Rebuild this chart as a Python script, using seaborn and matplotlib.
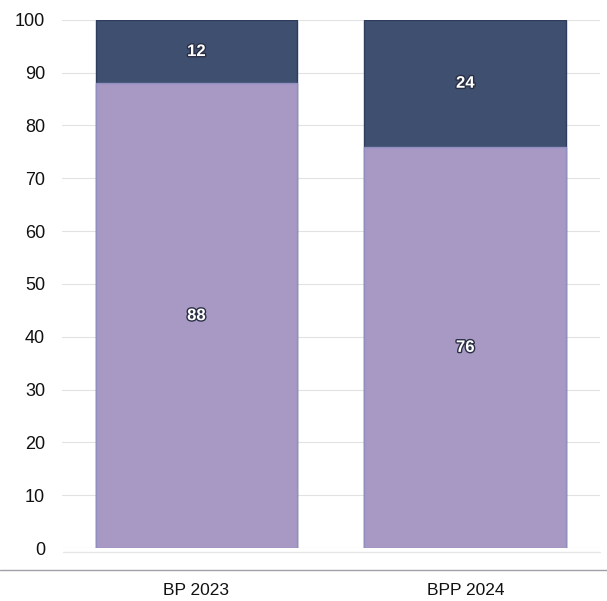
import pandas as pd
import seaborn as sns
import matplotlib.pyplot as plt
import matplotlib.patheffects as pe

categories = ['BP 2023', 'BPP 2024']
lower_values = [88, 76]
upper_values = [12, 24]

df = pd.DataFrame({'cat': categories, 'lower': lower_values, 'upper': upper_values})
df['total'] = df['lower'] + df['upper']

sns.set_style('white')
plt.rcParams['font.family'] = ['Liberation Sans', 'DejaVu Sans']

fig = plt.figure(figsize=(6.07, 6.01), dpi=100)
ax = fig.add_axes([0.102, 0.088, 0.886, 0.879])

# stacked: draw totals first (dark), then the lower part on top
sns.barplot(data=df, x='cat', y='total', color='#3e4f70', width=0.75,
            edgecolor='#2f3d5c', linewidth=1, saturation=1, ax=ax)
sns.barplot(data=df, x='cat', y='lower', color='#a898c4', width=0.75,
            edgecolor='#8f8fc0', linewidth=1, saturation=1, ax=ax)

outline = [pe.withStroke(linewidth=2, foreground='#2a2f45')]
for i, row in df.iterrows():
    ax.text(i, row['lower'] + row['upper'] / 2, str(row['upper']), ha='center', va='center',
            color='white', fontsize=12, fontweight='bold', path_effects=outline)
    ax.text(i, row['lower'] / 2, str(row['lower']), ha='center', va='center',
            color='white', fontsize=12, fontweight='bold', path_effects=outline)

ax.set_ylim(0, 100)
ax.set_xlim(-0.5, 1.5)
ax.set_yticks(range(0, 101, 10))
ax.yaxis.grid(True, color='#e2e2e2', linewidth=0.8)
ax.set_axisbelow(True)
for s in ax.spines.values():
    s.set_visible(False)
ax.tick_params(axis='y', labelsize=13, length=0, pad=12, labelcolor='#111111')
ax.tick_params(axis='x', labelsize=12.5, length=0, pad=25, labelcolor='#111111')
ax.set_xlabel('')
ax.set_ylabel('')

# separator line between axis and category labels
fig.add_artist(plt.Line2D([0.0, 1.0], [1 - 570 / 601, 1 - 570 / 601], color='#a0a0a8', linewidth=1))
fig.add_artist(plt.Line2D([0.103, 0.988], [1 - 552 / 601, 1 - 552 / 601], color='#e6e6e6', linewidth=1))

fig.savefig('out.png', dpi=100)
